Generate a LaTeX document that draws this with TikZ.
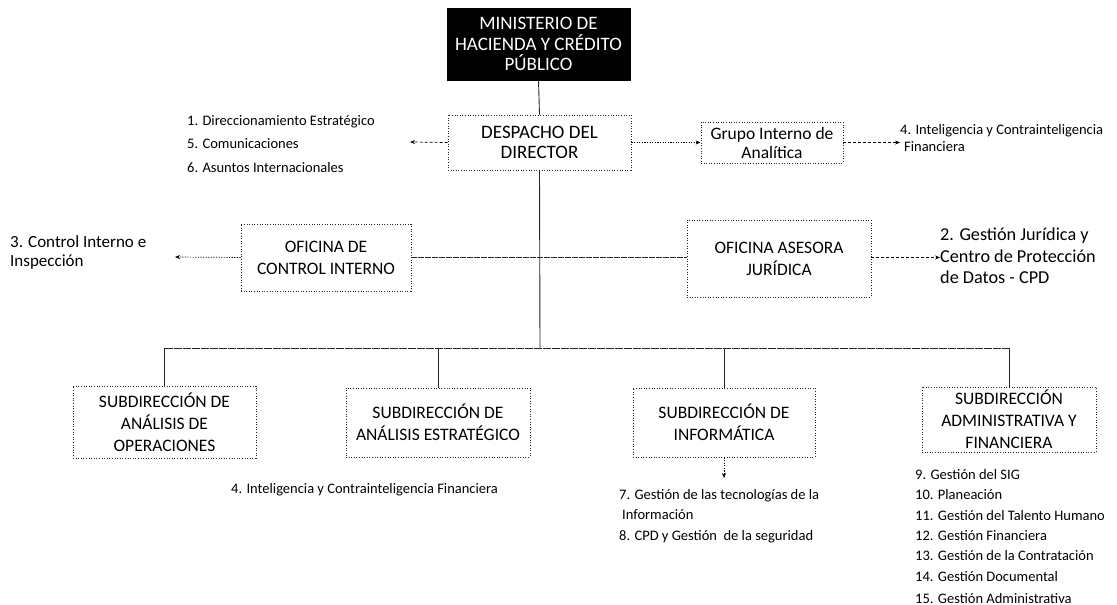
\documentclass[tikz,border=0pt]{standalone}
\usepackage{fontspec}
\setmainfont{Carlito}
\usetikzlibrary{arrows.meta,calc}
\begin{document}
\begin{tikzpicture}[x=1pt,y=-1pt,
  box/.style={draw=black!85,dash pattern=on 1pt off 1.6pt,line width=0.8pt,inner sep=0pt,align=center,
    font=\fontsize{17.5}{22}\selectfont},
  topbox/.style={fill=black,draw=black,text=white,inner sep=0pt,align=center,
    font=\fontsize{19}{20.5}\selectfont},
  lbl/.style={anchor=west,align=left,inner sep=0pt},
  small/.style={font=\fontsize{14.5}{20.3}\selectfont},
  link/.style={line width=0.9pt,black!85},
  arr/.style={line width=0.7pt,dash pattern=on 1.2pt off 1.4pt,-{Stealth[length=5pt,width=4pt]}},
  darr/.style={line width=0.7pt,dash pattern=on 3pt off 2pt,-{Stealth[length=5pt,width=4pt]}}
]
\useasboundingbox (0,0) rectangle (1117,605);

% boxes
\node[topbox,minimum width=183pt,minimum height=72pt] (min) at (538.5,44) {MINISTERIO DE\\HACIENDA Y CRÉDITO\\PÚBLICO};
\node[box,minimum width=183pt,minimum height=55pt,font=\fontsize{19}{19.5}\selectfont] (desp) at (539.5,142.5) {DESPACHO DEL\\DIRECTOR};
\node[box,minimum width=142pt,minimum height=41pt,font=\fontsize{17.5}{19}\selectfont] (grupo) at (772,142.5) {Grupo Interno de\\Analítica};
\node[box,minimum width=170pt,minimum height=67pt] (ctrl) at (326,257.5) {OFICINA DE\\CONTROL INTERNO};
\node[box,minimum width=184pt,minimum height=77pt] (ases) at (779,258.5) {OFICINA ASESORA\\JURÍDICA};
\node[box,minimum width=183pt,minimum height=72pt] (ops) at (164.5,422) {SUBDIRECCIÓN DE\\ANÁLISIS DE\\OPERACIONES};
\node[box,minimum width=184pt,minimum height=69pt] (est) at (438,422.5) {SUBDIRECCIÓN DE\\ANÁLISIS ESTRATÉGICO};
\node[box,minimum width=182pt,minimum height=69pt] (inf) at (724,422.5) {SUBDIRECCIÓN DE\\INFORMÁTICA};
\node[box,minimum width=174pt,minimum height=65pt] (adm) at (1009,419.5) {SUBDIRECCIÓN\\ADMINISTRATIVA Y\\FINANCIERA};

% text labels
\node[lbl,font=\fontsize{14.5}{23.5}\selectfont] (listA) at (187,144) {1. Direccionamiento Estratégico\\5. Comunicaciones\\6. Asuntos Internacionales};
\node[lbl,font=\fontsize{14.5}{16.5}\selectfont] (listB) at (900,138) {4. Inteligencia y Contrainteligencia\\\hspace*{4pt}Financiera};
\node[lbl,font=\fontsize{17}{19.5}\selectfont] (t3) at (10,252.5) {3. Control Interno e\\Inspección};
\node[lbl,font=\fontsize{18.2}{21.5}\selectfont] (t2) at (940,256) {2. Gestión Jurídica y\\Centro de Protección\\de Datos - CPD};
\node[lbl,small] (t4) at (231,490) {4. Inteligencia y Contrainteligencia Financiera};
\node[lbl,small] (listI) at (619,516) {7. Gestión de las tecnologías de la\\\hspace*{3pt}Información\\8. CPD y Gestión\ \ de la seguridad};
\node[lbl,small] (listM) at (915,536.5) {9. Gestión del SIG\\10. Planeación\\11. Gestión del Talento Humano\\12. Gestión Financiera\\13. Gestión de la Contratación\\14. Gestión Documental\\[2pt]15. Gestión Administrativa};

% coordinates
\coordinate (aA) at (410,142);
\coordinate (a3) at (175,257);
\coordinate (aI) at (724,478);
\coordinate (bus) at (540,348);

% tree connectors
\draw[link] (min.south) -- (desp.north);
\draw[link] (desp.south) -- (bus);
\draw[link,dash pattern=on 6pt off 1pt] (ctrl.east) -- (ases.west |- ctrl.east);
\draw[link,dash pattern=on 8pt off 1pt] (ops.north |- bus) -- (adm.north |- bus);
\draw[link] (ops.north |- bus) -- (ops.north);
\draw[link] (est.north |- bus) -- (est.north);
\draw[link] (inf.north |- bus) -- (inf.north);
\draw[link] (adm.north |- bus) -- (adm.north);

% arrows
\draw[arr] (desp.east) -- (grupo.west);
\draw[darr] (desp.west) -- (aA);
\draw[darr] (grupo.east) -- (listB.west |- grupo.east);
\draw[arr] (ctrl.west) -- (a3);
\draw[darr] (ases.east |- ctrl.east) -- (t2.west |- ctrl.east);
\draw[arr] (inf.south) -- (aI);
\end{tikzpicture}
\end{document}
